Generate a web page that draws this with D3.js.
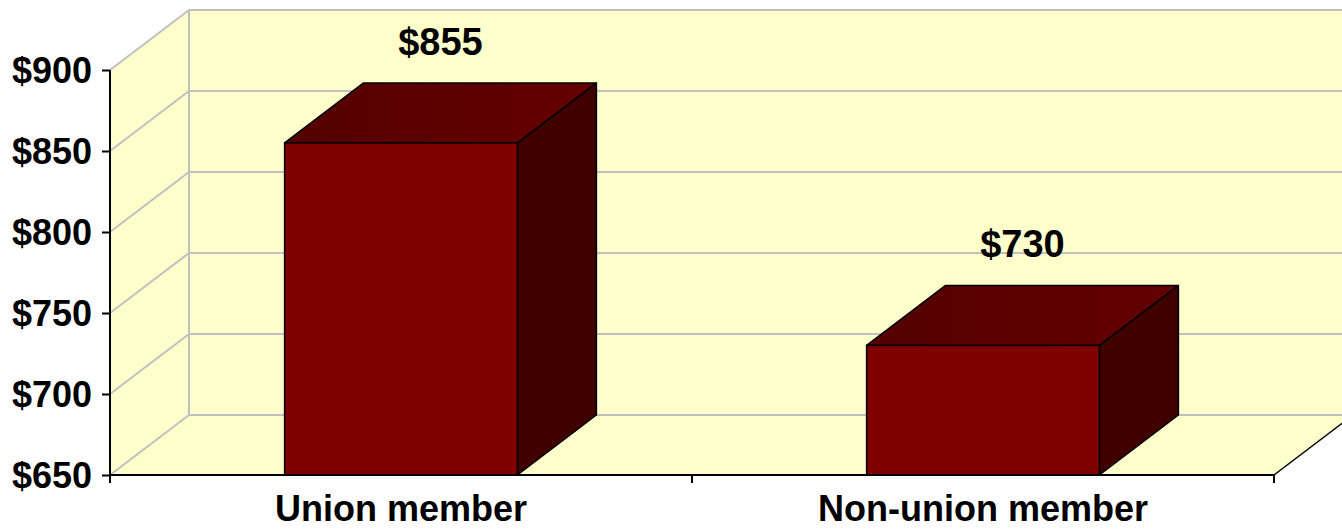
<!DOCTYPE html>
<html lang="en">
<head>
  <meta charset="utf-8">
  <title>Union vs non-union weekly earnings</title>
  <script src="https://cdnjs.cloudflare.com/ajax/libs/d3/7.8.5/d3.min.js"></script>
  <style>
    html, body { margin: 0; padding: 0; background: #fff; }
    svg text { font-family: "Liberation Sans", Arial, sans-serif; font-weight: bold; fill: #000; }
  </style>
</head>
<body>
<svg id="chart" width="1342" height="530"></svg>
<script>
  var categories = ["Union member", "Non-union member"];
  var values = [855, 730];
  var valueLabels = ["$855", "$730"];
  var yTicks = [650, 700, 750, 800, 850, 900];

  var chartW = 1342, chartH = 530;
  var plotLeft = 110, plotRight = 1274, plotBottom = 475, plotTop = 70;
  // depth offset of the 3d box
  var dx = 79, dy = -60;

  var svg = d3.select("#chart");

  var defs = svg.append("defs");
  var grad = defs.append("linearGradient").attr("id", "topgrad")
    .attr("x1", "0%").attr("x2", "100%").attr("y1", "0%").attr("y2", "0%");
  grad.append("stop").attr("offset", "0%").attr("stop-color", "#540000");
  grad.append("stop").attr("offset", "100%").attr("stop-color", "#640000");

  var y = d3.scaleLinear().domain([650, 900]).range([plotBottom, plotTop]);
  var x = d3.scaleBand().domain(categories).range([plotLeft, plotRight]).padding(0);

  var wallFill = "#ffffcc", gridCol = "#c0c0c0";
  var y0 = y(650), y1 = y(900);

  // back wall
  svg.append("rect")
    .attr("x", plotLeft + dx).attr("y", y1 + dy)
    .attr("width", chartW - plotLeft - dx + 20).attr("height", y0 - y1)
    .attr("fill", wallFill);
  // side wall
  svg.append("polygon")
    .attr("points", [[plotLeft, y0], [plotLeft + dx, y0 + dy], [plotLeft + dx, y1 + dy], [plotLeft, y1]].join(" "))
    .attr("fill", wallFill);
  // floor
  svg.append("polygon")
    .attr("points", [[plotLeft, y0], [plotRight, y0], [plotRight + dx, y0 + dy], [plotLeft + dx, y0 + dy]].join(" "))
    .attr("fill", wallFill);

  // gridlines on side wall and back wall
  svg.append("g").selectAll("line").data(yTicks).join("line")
    .attr("x1", plotLeft).attr("y1", function(d) { return y(d); })
    .attr("x2", plotLeft + dx).attr("y2", function(d) { return y(d) + dy; })
    .attr("stroke", gridCol).attr("stroke-width", 2);
  svg.append("g").selectAll("line").data(yTicks).join("line")
    .attr("x1", plotLeft + dx).attr("y1", function(d) { return y(d) + dy; })
    .attr("x2", chartW + 20).attr("y2", function(d) { return y(d) + dy; })
    .attr("stroke", gridCol).attr("stroke-width", 2);
  svg.append("line")
    .attr("x1", plotLeft + dx).attr("x2", plotLeft + dx)
    .attr("y1", y0 + dy).attr("y2", y1 + dy)
    .attr("stroke", gridCol).attr("stroke-width", 2);

  // floor right edge
  svg.append("line")
    .attr("x1", plotRight).attr("y1", y0).attr("x2", plotRight + dx).attr("y2", y0 + dy)
    .attr("stroke", "#000").attr("stroke-width", 1.5);

  // bars
  var bw = x.bandwidth() * 0.4;
  var bars = svg.append("g").selectAll("g").data(values).join("g");
  bars.each(function(v, i) {
    var g = d3.select(this);
    var xl = x(categories[i]) + (x.bandwidth() - bw) / 2, xr = xl + bw;
    var yt = y(v), yb = y(650);
    g.append("polygon")
      .attr("points", [[xr, yb], [xr + dx, yb + dy], [xr + dx, yt + dy], [xr, yt]].join(" "))
      .attr("fill", "#400000").attr("stroke", "#000").attr("stroke-width", 1.5).attr("stroke-linejoin", "round");
    g.append("polygon")
      .attr("points", [[xl, yt], [xr, yt], [xr + dx, yt + dy], [xl + dx, yt + dy]].join(" "))
      .attr("fill", "url(#topgrad)").attr("stroke", "#000").attr("stroke-width", 1.5).attr("stroke-linejoin", "round");
    g.append("rect")
      .attr("x", xl).attr("y", yt).attr("width", bw).attr("height", yb - yt)
      .attr("fill", "#800000").attr("stroke", "#000").attr("stroke-width", 1.5);
    g.append("text")
      .attr("x", (xl + xr) / 2 + dx / 2).attr("y", yt + dy / 2 - 58)
      .attr("text-anchor", "middle")
      .style("font-size", "38px")
      .text(valueLabels[i]);
  });

  // y axis
  var yAxis = svg.append("g")
    .attr("transform", "translate(" + plotLeft + ",0)")
    .call(d3.axisLeft(y).tickValues(yTicks).tickSize(8).tickPadding(10)
      .tickFormat(function(d) { return "$" + d; }));
  yAxis.select(".domain").attr("stroke", "#000").attr("stroke-width", 2)
    .attr("d", "M0," + y1 + "V" + (y0 + 6));
  yAxis.selectAll(".tick line").attr("stroke", "#000").attr("stroke-width", 2);
  yAxis.selectAll(".tick text").style("font-size", "36px").attr("dy", "0.36em");

  // x axis
  var xAxis = svg.append("g")
    .attr("transform", "translate(0," + y0 + ")");
  xAxis.append("line")
    .attr("x1", plotLeft).attr("x2", plotRight).attr("y1", 0).attr("y2", 0)
    .attr("stroke", "#000").attr("stroke-width", 2);
  xAxis.selectAll("line.tk").data([plotLeft].concat(categories.map(function(c) { return x(c) + x.bandwidth(); })))
    .join("line").attr("class", "tk")
    .attr("x1", function(d) { return d; }).attr("x2", function(d) { return d; })
    .attr("y1", 0).attr("y2", 8)
    .attr("stroke", "#000").attr("stroke-width", 2);
  xAxis.selectAll("text").data(categories).join("text")
    .attr("x", function(d) { return x(d) + x.bandwidth() / 2; })
    .attr("y", 46)
    .attr("text-anchor", "middle")
    .style("font-size", "36px")
    .text(function(d) { return d; });
</script>
</body>
</html>
